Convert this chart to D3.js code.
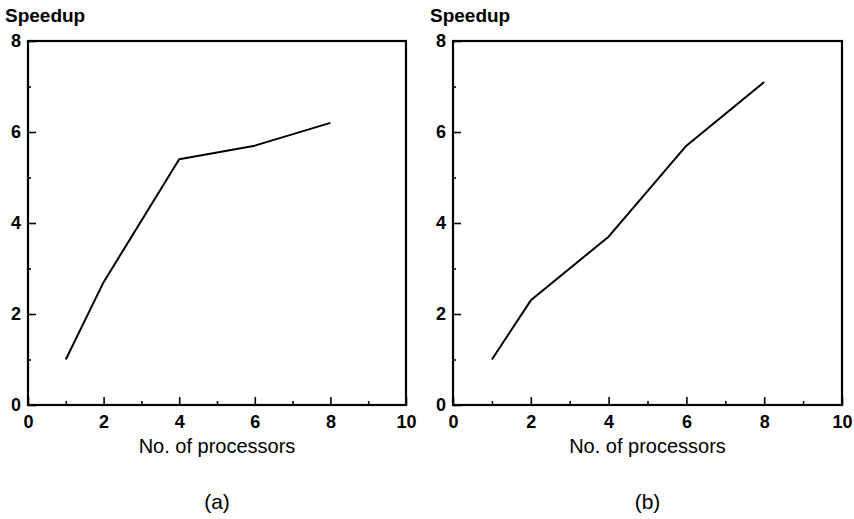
<!DOCTYPE html>
<html>
<head>
<meta charset="utf-8">
<script src="https://cdn.jsdelivr.net/npm/d3@7"></script>
<style>
  body { margin:0; background:#fff; }
  svg { display:block; font-family:"Liberation Sans", Arial, Helvetica, sans-serif; }
</style>
</head>
<body>
<svg id="chart" width="854" height="519"></svg>
<script>
// processors on the x axis, speedup on the y axis
const processors = [1, 2, 4, 6, 8];
const speedupA = [1.0, 2.7, 5.4, 5.7, 6.2];
const speedupB = [1.0, 2.3, 3.7, 5.7, 7.1];
const xMajor = [0, 2, 4, 6, 8, 10];
const xMinor = [1, 3, 5, 7, 9];
const yMajor = [0, 2, 4, 6, 8];
const yMinor = [1, 3, 5, 7];
const panels = [
  {tag: "(a)", values: speedupA, left: 28, right: 406},
  {tag: "(b)", values: speedupB, left: 453, right: 842}
];
const TOP = 41, BOTTOM = 405;

const svg = d3.select("#chart");

panels.forEach(function(p){
  let xScale = d3.scaleLinear().domain([0, 10]).range([p.left, p.right]);
  let yScale = d3.scaleLinear().domain([0, 8]).range([BOTTOM, TOP]);
  let g = svg.append("g");

  // minor ticks (no labels)
  g.append("g")
   .attr("transform", "translate(0," + BOTTOM + ")")
   .call(d3.axisBottom(xScale).tickValues(xMinor).tickSizeInner(-4).tickSizeOuter(0).tickFormat(""));
  g.append("g")
   .attr("transform", "translate(" + p.left + ",0)")
   .call(d3.axisLeft(yScale).tickValues(yMinor).tickSizeInner(-3).tickSizeOuter(0).tickFormat(""));

  // major ticks with labels
  g.append("g")
   .attr("transform", "translate(0," + BOTTOM + ")")
   .call(d3.axisBottom(xScale).tickValues(xMajor).tickSizeInner(-8).tickSizeOuter(0).tickPadding(10));
  g.append("g")
   .attr("transform", "translate(" + p.left + ",0)")
   .call(d3.axisLeft(yScale).tickValues(yMajor).tickSizeInner(-8).tickSizeOuter(0).tickPadding(7));

  g.selectAll(".domain").remove();
  g.selectAll(".tick line").attr("stroke", "#000").attr("stroke-width", 1.6);
  g.selectAll(".tick text")
   .attr("fill", "#000")
   .style("font-size", "18px")
   .style("font-weight", "bold");

  // frame
  g.append("rect")
   .attr("x", p.left).attr("y", TOP)
   .attr("width", p.right - p.left).attr("height", BOTTOM - TOP)
   .attr("fill", "none").attr("stroke", "#000").attr("stroke-width", 2.2);

  // data line
  let line = d3.line()
    .x((d, i) => xScale(processors[i]))
    .y(d => yScale(d));
  g.append("path")
   .datum(p.values)
   .attr("fill", "none")
   .attr("stroke", "#000")
   .attr("stroke-width", 2)
   .attr("stroke-linejoin", "round")
   .attr("d", line);

  // labels
  g.append("text")
   .attr("x", p.left - 23).attr("y", 22)
   .style("font-size", "19px").style("font-weight", "bold")
   .attr("fill", "#000")
   .text("Speedup");
  g.append("text")
   .attr("x", (p.left + p.right) / 2).attr("y", 453)
   .attr("text-anchor", "middle")
   .style("font-size", "20px")
   .attr("fill", "#000")
   .text("No. of processors");
  g.append("text")
   .attr("x", (p.left + p.right) / 2).attr("y", 509)
   .attr("text-anchor", "middle")
   .style("font-size", "21px")
   .attr("fill", "#000")
   .text(p.tag);
});
</script>
</body>
</html>
